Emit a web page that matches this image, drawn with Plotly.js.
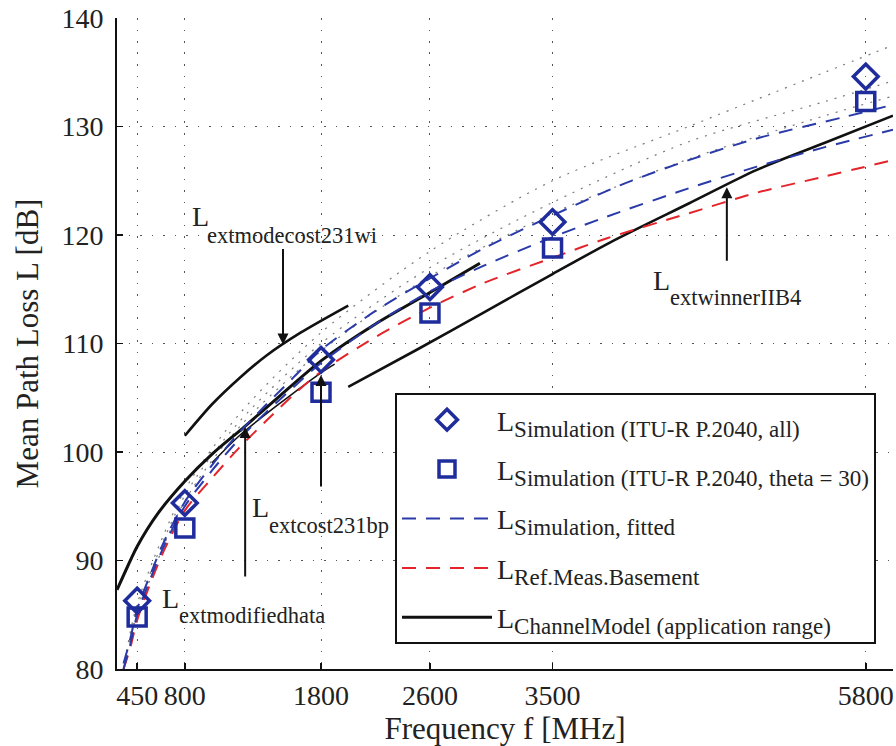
<!DOCTYPE html>
<html><head><meta charset="utf-8">
<script src="https://cdn.plot.ly/plotly-3.0.1.min.js"></script>
<style>html,body{margin:0;padding:0;background:#fff}</style>
</head><body><div id="chart" style="width:896px;height:746px"></div>
<script>
// ---- data ----
const freqTicks = [450, 800, 1800, 2600, 3500, 5800];
const yTicks = [80, 90, 100, 110, 120, 130, 140];
const simAll = [86.3, 95.3, 108.5, 115.2, 121.2, 134.6];
const simTheta30 = [84.8, 93.0, 105.5, 112.8, 118.8, 132.3];

const fitUpperF = [350, 400, 450, 550, 650, 800, 1000, 1200, 1400, 1600, 1800, 2200, 2600, 3000, 3500, 4000, 4500, 5000, 5650, 6000];
const fitUpperL = [80.5, 82.8, 85.5, 88.8, 91.8, 95.4, 98.8, 101.8, 104.4, 106.9, 109.4, 113.0, 116.0, 118.8, 121.8, 124.6, 126.9, 128.9, 130.9, 132.0];
const fitLowerF = [350, 400, 450, 550, 650, 800, 1000, 1200, 1400, 1600, 1800, 2200, 2600, 3000, 3500, 3900, 4500, 5000, 5500, 6000];
const fitLowerL = [80.0, 82.3, 85.0, 88.4, 91.4, 95.0, 98.3, 101.2, 103.7, 106.0, 108.2, 111.8, 114.8, 117.2, 119.8, 121.7, 124.3, 126.3, 128.1, 129.7];
const refMeasF = [350, 400, 450, 550, 650, 800, 1000, 1200, 1400, 1600, 1800, 2200, 2600, 3000, 3500, 3900, 4500, 5000, 5500, 6000];
const refMeasL = [80.0, 82.0, 84.5, 88.0, 91.0, 94.6, 97.6, 100.4, 102.9, 105.3, 107.4, 110.6, 113.3, 115.6, 117.9, 119.7, 122.0, 123.9, 125.4, 126.9];

const channelF = [302, 400, 450, 600, 800, 1000, 1235, 1500, 1800, 2200, 2600, 2967];
const channelL = [87.3, 90.0, 91.3, 94.3, 97.3, 99.8, 102.3, 105.2, 108.4, 111.8, 114.7, 117.4];
const cost231bpF = [1000, 1200, 1500, 1800, 1900];
const cost231bpL = [99.0, 101.5, 104.5, 107.3, 108.1];
const cost231wiF = [800, 1000, 1200, 1400, 1650, 2000];
const cost231wiL = [101.5, 104.4, 106.8, 108.9, 111.0, 113.5];
const winnerF = [2000, 2500, 3000, 3500, 3921, 4500, 5000, 5500, 6000];
const winnerL = [106.0, 109.4, 112.9, 116.4, 119.3, 122.9, 126.0, 128.5, 131.0];

const dotAF = [350, 450, 800, 1200, 1800, 2600, 3500, 4500, 5000, 5500, 6000];
const dotAL = [80.0, 86.0, 96.5, 103.5, 111.0, 118.5, 125.0, 130.0, 132.5, 135.0, 137.5];
const dotBF = [350, 450, 800, 1200, 1800, 2600, 3500, 4500, 5500, 6000];
const dotBL = [80.0, 85.5, 96.0, 102.8, 110.0, 117.0, 123.0, 128.6, 132.3, 134.2];
const dotCF = [350, 450, 800, 1200, 1800, 2600, 3500, 4500, 5500, 6000];
const dotCL = [80.0, 85.0, 95.5, 102.3, 109.3, 116.2, 122.0, 127.0, 131.0, 132.8];

const legendSubs = [
  'Simulation (ITU-R P.2040, all)',
  'Simulation (ITU-R P.2040, theta = 30)',
  'Simulation, fitted',
  'Ref.Meas.Basement',
  'ChannelModel (application range)'
];
const legendNames = legendSubs.map(s => 'L<sub><span style="font-size:23px">' + s + '</span></sub>');

// ---- styles ----
const BLUE = '#1f2c9c';
const DBLUE = '#2a3aa8';
const RED = '#e3242b';
const SERIF = 'Liberation Serif, Times New Roman, serif';
const DASH = '14px,10px';
const DOTS = '2px,7px';

const traces = [];
function dotted(f, l) {
  traces.push({x: f, y: l, mode: 'lines', showlegend: false, hoverinfo: 'skip',
    line: {color: '#7a7a7a', width: 1.2, dash: DOTS, shape: 'spline', smoothing: 0.8}});
}
dotted(dotAF, dotAL); dotted(dotBF, dotBL); dotted(dotCF, dotCL);

function solid(f, l, w, name, show, rank) {
  traces.push({x: f, y: l, mode: 'lines', name: name || '', showlegend: !!show,
    legendgroup: show ? 'g5' : undefined, legendrank: rank || 1000,
    line: {color: '#111', width: w, shape: 'spline', smoothing: 0.8}});
}
solid(cost231wiF, cost231wiL, 2.6);
solid(cost231bpF, cost231bpL, 1.6);
solid(winnerF, winnerL, 2.6);
solid(channelF, channelL, 3, legendNames[4], true, 5);

traces.push({x: refMeasF, y: refMeasL, mode: 'lines', name: legendNames[3], legendgroup: 'g4', legendrank: 4,
  line: {color: RED, width: 2, dash: DASH, shape: 'spline', smoothing: 0.8}});
traces.push({x: fitLowerF, y: fitLowerL, mode: 'lines', showlegend: false,
  line: {color: DBLUE, width: 2, dash: DASH, shape: 'spline', smoothing: 0.8}});
traces.push({x: fitUpperF, y: fitUpperL, mode: 'lines', name: legendNames[2], legendgroup: 'g3', legendrank: 3,
  line: {color: DBLUE, width: 2, dash: DASH, shape: 'spline', smoothing: 0.8}});
traces.push({x: freqTicks, y: simTheta30, mode: 'markers', name: legendNames[1], legendgroup: 'g2', legendrank: 2,
  marker: {symbol: 'square-open', size: 18, color: BLUE, line: {width: 3.5, color: BLUE}}});
traces.push({x: freqTicks, y: simAll, mode: 'markers', name: legendNames[0], legendgroup: 'g1', legendrank: 1,
  marker: {symbol: 'diamond-open', size: 19, color: BLUE, line: {width: 3.5, color: BLUE}}});

// ---- labels ----
const PX = v => (v - 117) / 776, PY = v => (669 - v) / 651;
function lbl(text, px, py, size) {
  return {text: text, xref: 'paper', yref: 'paper', x: PX(px), y: PY(py), xanchor: 'left', yanchor: 'middle',
    showarrow: false, font: {family: SERIF, size: size, color: '#222'}};
}
function arrow(x, y, ay) {
  return {text: '', x: x, y: y, xref: 'x', yref: 'y', showarrow: true, ax: 0, ay: ay,
    arrowhead: 2, arrowsize: 1.1, arrowwidth: 2, arrowcolor: '#111', standoff: 0};
}
const annotations = [
  lbl('L', 190, 216, 28), lbl('extmodecost231wi', 205, 235, 22.5),
  lbl('L', 250, 507, 28), lbl('extcost231bp', 267, 525, 22.5),
  lbl('L', 160, 598, 28), lbl('extmodifiedhata', 177, 615, 22.5),
  lbl('L', 651, 280, 28), lbl('extwinnerIIB4', 668, 298, 22.5),
  arrow(1521, 109.9, -97),
  arrow(1243, 102.3, 151),
  arrow(1800, 107.1, 113),
  arrow(4780, 124.4, 75)
];

const layout = {
  width: 896, height: 746,
  margin: {l: 117, r: 3, t: 18, b: 77},
  paper_bgcolor: '#fff', plot_bgcolor: '#fff',
  font: {family: SERIF, size: 28, color: '#222'},
  xaxis: {range: [302, 6000], tickvals: freqTicks, ticktext: freqTicks.map(String),
    showline: true, linecolor: '#111', linewidth: 2, mirror: false,
    ticks: 'inside', ticklen: 6, tickwidth: 1.5, tickcolor: '#111',
    showgrid: true, gridcolor: '#555', gridwidth: 1, griddash: '1.5px,10px',
    zeroline: false, ticklabelstandoff: 0,
    tickfont: {family: SERIF, size: 28, color: '#222'},
    title: {text: 'Frequency f [MHz]', font: {family: SERIF, size: 31, color: '#222'}, standoff: 2}},
  yaxis: {range: [80, 140], tickvals: yTicks,
    showline: true, linecolor: '#111', linewidth: 2, mirror: false,
    ticks: 'inside', ticklen: 6, tickwidth: 1.5, tickcolor: '#111',
    showgrid: true, gridcolor: '#555', gridwidth: 1, griddash: '1.5px,10px',
    zeroline: false, ticklabelstandoff: 6,
    tickfont: {family: SERIF, size: 28, color: '#222'},
    title: {text: 'Mean Path Loss L [dB]', font: {family: SERIF, size: 31, color: '#222'}, standoff: 14}},
  showlegend: true,
  legend: {x: PX(395), y: PY(393), xanchor: 'left', yanchor: 'top',
    bgcolor: '#fff', bordercolor: '#111', borderwidth: 2,
    font: {family: SERIF, size: 28, color: '#222'},
    tracegroupgap: 10, itemwidth: 90, traceorder: 'grouped'},
  annotations: annotations
};

Plotly.newPlot('chart', traces, layout, {staticPlot: true, displayModeBar: false});
</script></body></html>
